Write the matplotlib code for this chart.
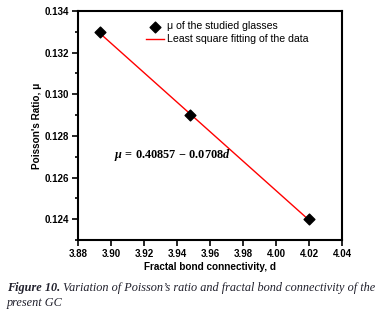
import matplotlib
matplotlib.use("Agg")
import matplotlib.pyplot as plt
import numpy as np
from matplotlib.ticker import MultipleLocator

# data
fractal_d = [3.893, 3.948, 4.020]
poisson_mu = [0.133, 0.129, 0.124]
fit_intercept = 0.40857
fit_slope = -0.0708

plt.rcParams['font.family'] = ['Liberation Sans', 'DejaVu Sans']
plt.rcParams['mathtext.fontset'] = 'custom'
plt.rcParams['mathtext.rm'] = 'Liberation Serif:bold'
plt.rcParams['mathtext.it'] = 'Liberation Serif:italic:bold'
plt.rcParams['mathtext.bf'] = 'Liberation Serif:bold'

fig = plt.figure(figsize=(3.81, 3.15), dpi=100)
ax = fig.add_axes([0.205, 0.238, 0.693, 0.727])

fit_x = np.array([fractal_d[0], fractal_d[-1]])
ax.plot(fit_x, fit_intercept + fit_slope * fit_x, color='red', lw=1.0,
        label='Least square fitting of the data', zorder=2)
ax.scatter(fractal_d, poisson_mu, marker='D', s=30, color='black',
           label='\u03bc of the studied glasses', zorder=3)

ax.set_xlim(3.88, 4.04)
ax.set_ylim(0.123, 0.134)
ax.xaxis.set_major_locator(MultipleLocator(0.02))
ax.yaxis.set_major_locator(MultipleLocator(0.002))
ax.yaxis.set_minor_locator(MultipleLocator(0.001))
ax.xaxis.set_major_formatter(plt.FormatStrFormatter('%.2f'))
ax.yaxis.set_major_formatter(plt.FormatStrFormatter('%.3f'))
ax.tick_params(which='both', direction='out', width=1.2, labelsize=7, pad=2.5)
ax.tick_params(which='major', length=4)
ax.tick_params(which='minor', length=2.5)
for lbl in ax.get_xticklabels() + ax.get_yticklabels():
    lbl.set_fontweight('bold')
for sp in ax.spines.values():
    sp.set_linewidth(1.5)

ax.set_xlabel('Fractal bond connectivity, d', fontsize=7.2, fontweight='bold', labelpad=2)
ax.set_ylabel("Poisson's Ratio, \u03bc", fontsize=7.2, fontweight='bold', labelpad=2)

handles, labels = ax.get_legend_handles_labels()
ax.legend(handles[::-1], labels[::-1], loc='upper left', frameon=False, fontsize=7.6,
          handlelength=1.7, handletextpad=0.3, labelspacing=0.3,
          borderpad=0, borderaxespad=0, bbox_to_anchor=(0.258, 0.955))

ax.text(3.9015, 0.1271, r'$\mu\,=\,0.40857\,-\,0.0708d$', fontsize=8.8, va='center')

cap_color = '#20202c'
cap_size = 8.8
t1 = fig.text(0.018, 0.077, 'Figure 10.', fontsize=cap_size, fontstyle='italic',
              fontweight='bold', family='Liberation Serif', color=cap_color)
fig.canvas.draw()
bb = t1.get_window_extent()
x_next = (bb.x1 + 3) / fig.bbox.width
fig.text(x_next, 0.077, "Variation of Poisson\u2019s ratio and fractal bond connectivity of the",
         fontsize=cap_size, fontstyle='italic', family='Liberation Serif', color=cap_color)
fig.text(0.018, 0.028, 'present GC', fontsize=cap_size, fontstyle='italic',
         family='Liberation Serif', color=cap_color)

fig.savefig('out.png', dpi=100)
